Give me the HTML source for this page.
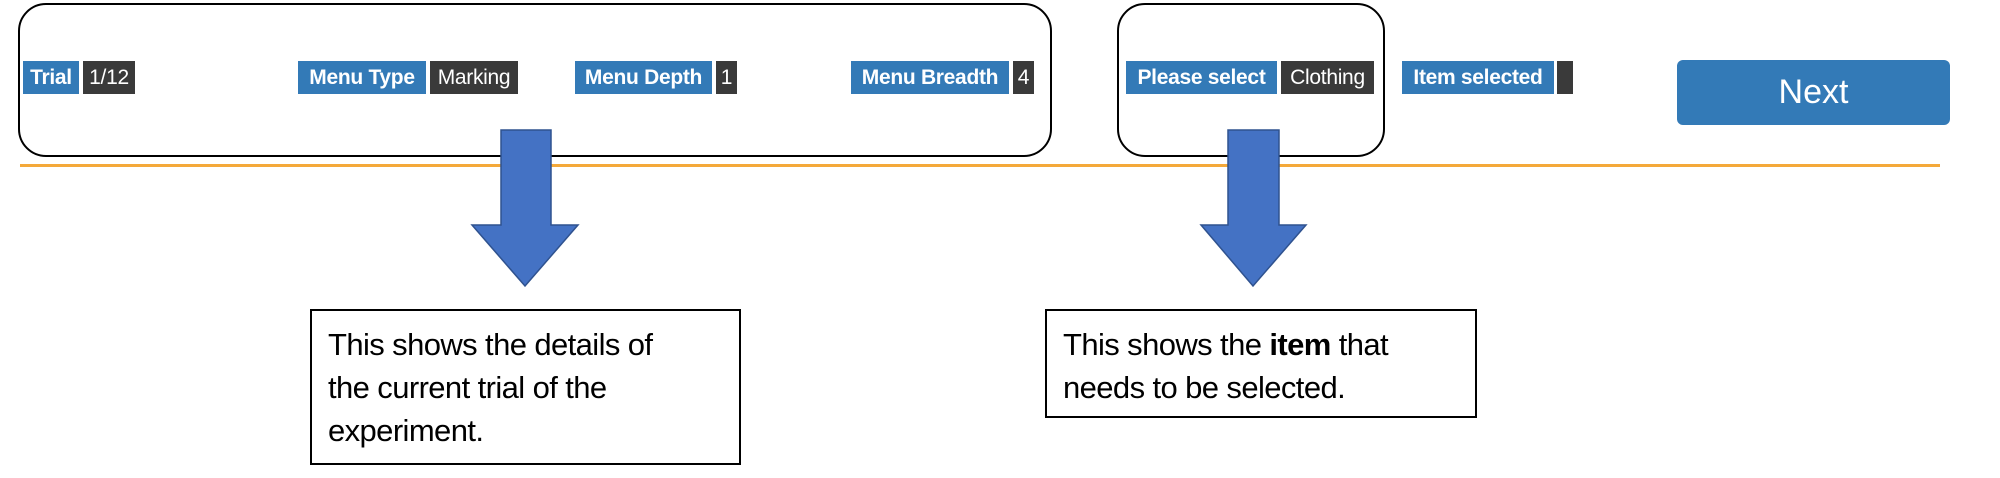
<!DOCTYPE html>
<html><head><style>
body{margin:0;width:2000px;height:478px;background:#fff;position:relative;overflow:hidden;font-family:"Liberation Sans",Arial,sans-serif}
.a{position:absolute;box-sizing:border-box}
.rb{border:2.5px solid #000;border-radius:28px}
.b{position:absolute;top:61px;height:33px;line-height:33px;color:#fff;font-size:21px;text-align:center;box-sizing:border-box;white-space:nowrap;letter-spacing:-0.3px}
.l{background:#337ab7;font-weight:bold}
.v{background:#3a3a3a}
.t{position:absolute;border:2.5px solid #000;box-sizing:border-box;font-size:31px;line-height:43px;padding:12px 16px 0;color:#000;background:#fff;letter-spacing:-0.6px;white-space:nowrap}
</style></head><body>
<div class="a rb" style="left:18px;top:3px;width:1034px;height:154px"></div>
<div class="a rb" style="left:1117px;top:3px;width:268px;height:154px"></div>
<div class="b l" style="left:23px;width:56px">Trial</div>
<div class="b v" style="left:83px;width:52px">1/12</div>
<div class="b l" style="left:298px;width:128px">Menu Type</div>
<div class="b v" style="left:430px;width:88px">Marking</div>
<div class="b l" style="left:575px;width:137px">Menu Depth</div>
<div class="b v" style="left:716px;width:21px">1</div>
<div class="b l" style="left:851px;width:158px">Menu Breadth</div>
<div class="b v" style="left:1013px;width:21px">4</div>
<div class="b l" style="left:1126px;width:151px">Please select</div>
<div class="b v" style="left:1281px;width:93px">Clothing</div>
<div class="b l" style="left:1402px;width:152px">Item selected</div>
<div class="b v" style="left:1557px;width:16px"></div>
<div class="a" style="left:1677px;top:60px;width:273px;height:65px;background:#337ab7;border-radius:6px;color:#fff;font-size:34px;line-height:65px;text-align:center">Next</div>
<div class="a" style="left:20px;top:164px;width:1920px;height:3px;background:#f4a93a"></div>
<svg class="a" style="left:0;top:0" width="2000" height="478">
<polygon points="501,130 551,130 551,225 578,225 525,286 472,225 501,225" fill="#4472c4" stroke="#2f528f" stroke-width="1.5"/>
<polygon points="1228,130 1279,130 1279,225 1306,225 1253,286 1201,225 1228,225" fill="#4472c4" stroke="#2f528f" stroke-width="1.5"/>
</svg>
<div class="t" style="left:310px;top:309px;width:431px;height:156px">This shows the details of<br>the current trial of the<br>experiment.</div>
<div class="t" style="left:1045px;top:309px;width:432px;height:109px">This shows the <b>item</b> that<br>needs to be selected.</div>
</body></html>
